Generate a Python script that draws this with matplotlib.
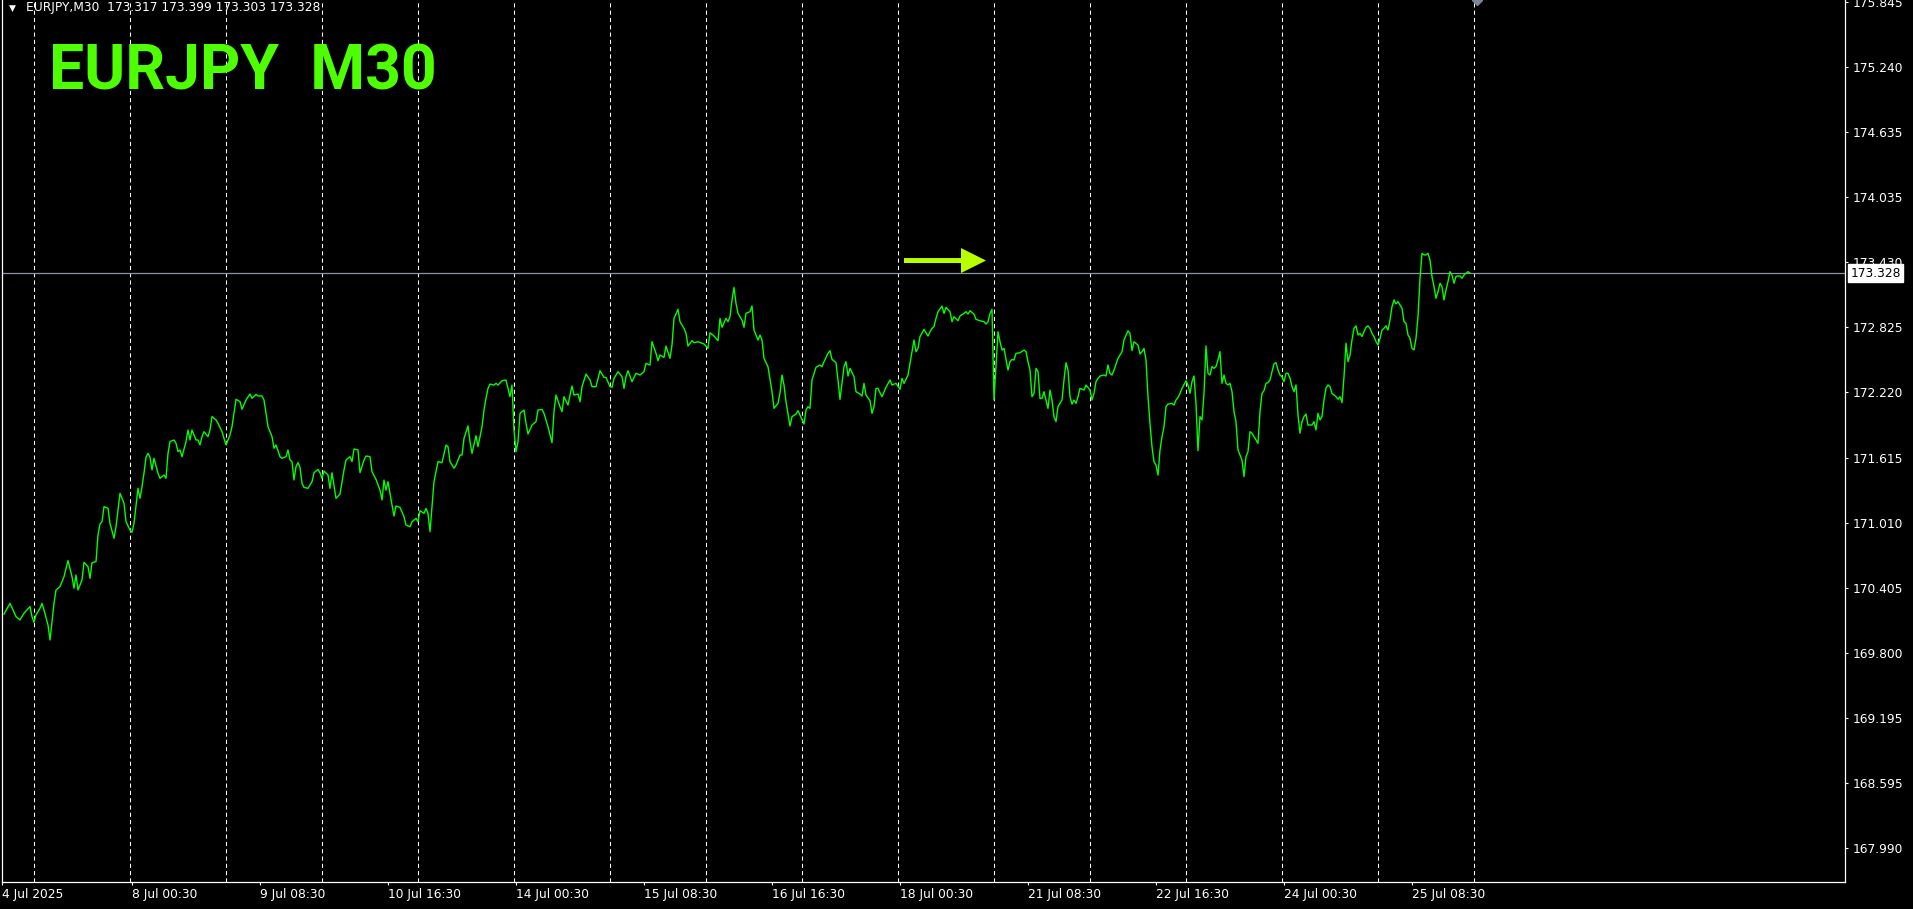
import matplotlib
matplotlib.use('Agg')
import matplotlib.pyplot as plt
import matplotlib.transforms as mtransforms

# ---------------- data ----------------
symbol = "EURJPY"
timeframe = "M30"
last_ohlc = [173.317, 173.399, 173.303, 173.328]

# bar index (M30 bars since 4 Jul 16:00) and close price
bar = [1, 4, 7, 9, 11, 14, 15, 16, 17, 19, 20, 21, 23, 24, 26, 27, 29, 31, 33, 35,
       36, 37, 38, 40, 41, 43, 44, 45, 47, 48, 49, 50, 51, 53, 54, 56, 57, 58, 59, 61,
       62, 64, 65, 66, 68, 69, 70, 71, 72, 73, 74, 75, 76, 78, 79, 81, 82, 83, 84, 86,
       87, 88, 89, 90, 92, 93, 94, 95, 97, 98, 99, 100, 101, 103, 104, 105, 107, 108, 110, 111,
       112, 114, 115, 116, 117, 119, 120, 122, 124, 125, 127, 128, 130, 131, 132, 133, 135, 136, 137, 139,
       140, 142, 143, 144, 145, 146, 147, 148, 149,
       150, 151, 153, 155, 156, 158, 159, 160, 161, 163, 164, 165, 167, 169, 171, 172, 174, 175, 176, 178,
       179, 181, 182, 184, 185, 187, 189, 190, 191, 192, 193, 195, 196, 197, 199, 201, 202, 204, 205, 207,
       208, 209, 211, 212, 213, 214, 215, 216, 218, 220, 222, 223, 224, 226, 227, 229, 230, 231, 233, 234,
       235, 237, 238, 240, 241, 242, 243, 244, 246, 247, 248, 250, 252, 253, 254, 255, 256, 257, 258, 259,
       260, 261, 262, 263, 265, 267, 268, 270, 271, 273, 275, 276, 277, 279, 280, 281, 283, 284, 285, 286,
       288, 289, 290, 292, 294, 295, 297,
       299, 301, 302, 304, 305, 306, 308, 310, 311, 312, 313, 315, 317, 319, 321, 322, 324, 325, 327, 328,
       329, 331, 332, 334, 335, 336, 338, 339, 341, 342, 343, 345, 346, 348, 351, 353, 354, 356, 358, 359,
       360, 362, 363, 364, 365, 366, 367, 368, 370, 371, 372, 374, 375, 376, 378, 379, 380, 381, 383, 385,
       386, 388, 389, 390, 391, 392, 394, 395, 397, 398, 399, 401, 402, 403, 404, 405, 407, 409, 410, 411,
       413, 414, 415, 417, 418, 419, 420, 421, 422, 423, 424, 426, 427, 429, 430, 431, 432, 434, 435, 436,
       437, 438, 439, 440, 442, 444, 445, 447, 449,
       450, 451, 453, 454, 455, 456, 457, 458, 459, 461, 463, 464, 465, 466, 467, 468, 470, 471, 472, 474,
       475, 476, 478, 479, 481, 482, 483, 484, 486, 487, 489, 491, 492, 493, 494, 495, 496, 497, 498, 499,
       500, 501, 503, 504, 505, 506, 507, 509, 511, 512, 513, 514, 515, 516, 517, 518, 519, 520, 521, 522,
       523, 524, 525, 526, 527, 528, 529, 530, 531, 532, 533, 534, 535, 536, 537, 538, 539, 541, 542, 544,
       545, 546, 547, 548, 549, 551, 552, 553, 554, 555, 556, 558, 560, 561, 563, 564, 565, 566, 568, 569,
       570, 571, 572, 573, 574, 575, 576, 577, 578, 579, 580, 581, 582, 583, 585, 586, 587, 588, 589, 590,
       592, 593, 594, 595,
       596, 597, 598, 599, 600, 601, 602, 603, 604, 605, 606, 607, 608, 609, 610, 611, 612, 613, 614, 615,
       616, 617, 618, 619, 620, 621, 622, 623, 624, 625, 626, 627, 628, 629, 630, 631, 632, 633, 634, 635,
       636, 637, 638, 639, 640, 641, 642, 643, 644, 645, 646, 647, 648, 649, 650, 651, 652, 653, 654, 655,
       656, 657, 658, 659, 660, 661, 662, 663, 664, 665, 666, 667, 668, 669, 670, 671, 672, 673, 674, 675,
       676, 677, 678, 679, 680, 681, 682, 683, 684, 685, 686, 687, 688, 689, 690, 691, 692, 693, 694, 695,
       696, 697, 698, 699, 700, 701, 702, 703, 704, 705, 706, 707, 708, 709, 710, 711, 712, 713, 714, 715,
       716, 717, 718, 719, 720, 721, 722, 723, 724, 725, 726, 727, 728, 729, 730, 731, 732, 733, 734]

close = [170.162, 170.261, 170.138, 170.107, 170.169, 170.231, 170.138, 170.085, 170.153, 170.215,
         170.261, 170.200, 170.060, 169.921, 170.261, 170.385, 170.416, 170.509, 170.658, 170.509,
         170.401, 170.525, 170.385, 170.478, 170.642, 170.602, 170.494, 170.639, 170.648, 170.896,
         170.998, 171.020, 171.159, 171.144, 171.004, 170.865, 170.973, 171.128, 171.283, 171.190,
         171.020, 170.942, 170.921, 171.004, 171.329, 171.236, 171.345, 171.469, 171.617, 171.654,
         171.617, 171.500, 171.608, 171.469, 171.422, 171.453, 171.422, 171.654, 171.763, 171.778,
         171.747, 171.670, 171.685, 171.623, 171.763, 171.871, 171.778, 171.871, 171.778, 171.778,
         171.732, 171.809, 171.855, 171.809, 171.871, 171.995, 171.964, 171.933, 171.855, 171.794,
         171.732, 171.824, 171.902, 172.026, 172.156, 172.134, 172.063, 172.149, 172.205, 172.165,
         172.202, 172.187, 172.187, 172.149, 172.026, 171.902, 171.809, 171.701, 171.732, 171.623,
         171.608, 171.623, 171.685, 171.592, 171.577, 171.407, 171.530, 171.568, 171.524,
         171.375, 171.338, 171.329, 171.391, 171.474, 171.505, 171.474, 171.422, 171.490, 171.453,
         171.329, 171.474, 171.236, 171.276, 171.499, 171.592, 171.623, 171.577, 171.694, 171.685,
         171.474, 171.592, 171.629, 171.623, 171.484, 171.412, 171.313, 171.220, 171.406, 171.313,
         171.391, 171.174, 171.072, 171.165, 171.152, 171.066, 170.988, 170.973, 171.019, 171.050,
         171.019, 171.121, 171.097, 171.143, 171.097, 170.926, 171.159, 171.391, 171.577, 171.567,
         171.731, 171.716, 171.577, 171.515, 171.545, 171.638, 171.638, 171.793, 171.908, 171.762,
         171.654, 171.818, 171.716, 171.901, 172.056, 172.164, 172.257, 172.297, 172.288, 172.304,
         172.288, 172.328, 172.335, 172.257, 172.180, 172.288, 171.870, 171.669, 171.762, 172.025,
         172.041, 172.056, 171.932, 171.833, 171.917, 171.948, 172.056, 172.062, 172.025, 171.901,
         171.753, 172.041, 172.195, 172.087, 172.041, 172.180, 172.102, 172.195, 172.279, 172.195,
         172.205, 172.133, 172.273, 172.390, 172.335, 172.273, 172.273,
         172.421, 172.359, 172.359, 172.273, 172.267, 172.350, 172.412, 172.366, 172.257, 172.366,
         172.421, 172.319, 172.397, 172.381, 172.412, 172.489, 172.474, 172.691, 172.582, 172.514,
         172.567, 172.545, 172.650, 172.536, 172.660, 172.907, 172.991, 172.876, 172.814, 172.768,
         172.650, 172.700, 172.681, 172.690, 172.669, 172.629, 172.774, 172.743, 172.700, 172.907,
         172.824, 172.907, 172.876, 172.923, 173.077, 173.195, 173.047, 172.954, 172.892, 172.824,
         172.954, 172.969, 173.022, 172.799, 172.706, 172.752, 172.706, 172.536, 172.458, 172.226,
         172.072, 172.118, 172.217, 172.381, 172.288, 172.133, 171.908, 171.994, 172.019, 172.050,
         172.010, 171.926, 172.056, 172.087, 172.072, 172.335, 172.452, 172.474, 172.458, 172.505,
         172.582, 172.607, 172.527, 172.496, 172.335, 172.155, 172.304, 172.458, 172.505, 172.372,
         172.443, 172.366, 172.226, 172.205, 172.186, 172.304, 172.195, 172.143, 172.025, 172.087,
         172.257, 172.257, 172.217, 172.180, 172.267, 172.335, 172.288, 172.304, 172.248,
         172.350, 172.303, 172.381, 172.489, 172.597, 172.706, 172.597, 172.628, 172.737, 172.805,
         172.743, 172.783, 172.814, 172.830, 172.907, 172.969, 173.021, 172.953, 173.009, 172.969,
         172.876, 172.922, 172.885, 172.929, 172.953, 172.969, 172.947, 172.978, 172.947, 172.898,
         172.885, 172.876, 172.854, 172.876, 172.953, 172.990, 172.149, 172.458, 172.783, 172.690,
         172.613, 172.628, 172.427, 172.505, 172.526, 172.520, 172.582, 172.588, 172.613, 172.597,
         172.505, 172.427, 172.180, 172.211, 172.443, 172.412, 172.164, 172.164, 172.226, 172.149,
         172.071, 172.242, 172.149, 171.994, 171.948, 172.087, 172.118, 172.149, 172.334, 172.495,
         172.427, 172.180, 172.111, 172.149, 172.118, 172.180, 172.257, 172.242, 172.288, 172.242,
         172.149, 172.211, 172.319, 172.350, 172.372, 172.381, 172.372, 172.474, 172.396, 172.381,
         172.427, 172.536, 172.597, 172.706, 172.792, 172.768, 172.607, 172.690, 172.659, 172.576,
         172.597, 172.628, 172.520, 172.180, 171.932, 171.715, 171.576, 171.545, 171.452, 171.684,
         171.808, 171.901, 172.087, 172.111, 172.118, 172.102, 172.149, 172.173, 172.211, 172.257,
         172.328, 172.288, 172.211, 172.319,
         172.372, 172.118, 171.679, 171.995, 171.964, 172.211, 172.651, 172.397, 172.381, 172.459,
         172.443, 172.459, 172.521, 172.598, 172.304, 172.381, 172.304, 172.289, 172.304, 172.227,
         172.041, 171.948, 171.685, 171.639, 171.592, 171.438, 171.623, 171.670, 171.855, 171.840,
         171.809, 171.778, 171.747, 172.041, 172.211, 172.236, 172.304, 172.310, 172.335, 172.412,
         172.484, 172.496, 172.428, 172.381, 172.366, 172.320, 172.397, 172.397, 172.351, 172.273,
         172.227, 172.289, 172.010, 171.840, 171.948, 171.995, 172.019, 171.917, 171.917, 171.917,
         171.948, 171.871, 172.026, 171.964, 171.995, 172.149, 172.258, 172.289, 172.273, 172.211,
         172.196, 172.180, 172.156, 172.180, 172.125, 172.366, 172.676, 172.505, 172.567, 172.707,
         172.815, 172.837, 172.753, 172.768, 172.738, 172.784, 172.824, 172.837, 172.815, 172.768,
         172.738, 172.691, 172.660, 172.722, 172.799, 172.815, 172.837, 172.799, 172.892, 173.016,
         173.078, 173.041, 173.062, 173.031, 173.000, 172.877, 172.861, 172.753, 172.722, 172.629,
         172.614, 172.722, 172.923, 173.279, 173.511, 173.496, 173.496, 173.511, 173.449, 173.295,
         173.202, 173.093, 173.155, 173.233, 173.202, 173.078, 173.171, 173.248, 173.341, 173.310,
         173.233, 173.295, 173.301, 173.301, 173.279, 173.310, 173.326, 173.341, 173.328]

# trading days shown and the number of M30 bars in each
day_names = ['4 Jul', '7 Jul', '8 Jul', '9 Jul', '10 Jul', '11 Jul', '14 Jul', '15 Jul',
             '16 Jul', '17 Jul', '18 Jul', '21 Jul', '22 Jul', '23 Jul', '24 Jul', '25 Jul']
bars_per_day = [16, 48, 48, 48, 48, 48, 48, 48, 48, 48, 48, 48, 48, 48, 48, 48]

time_tick_bars = [0, 65, 129, 193, 257, 321, 385, 449, 513, 577, 641, 705]
time_tick_labels = ['4 Jul 2025', '8 Jul 00:30', '9 Jul 08:30', '10 Jul 16:30', '14 Jul 00:30',
                    '15 Jul 08:30', '16 Jul 16:30', '18 Jul 00:30', '21 Jul 08:30',
                    '22 Jul 16:30', '24 Jul 00:30', '25 Jul 08:30']

price_ticks = [167.990, 168.595, 169.195, 169.800, 170.405, 171.010, 171.615, 172.220,
               172.825, 173.430, 174.035, 174.635, 175.240, 175.845]

# ---------------- figure ----------------
W, H = 1913, 909
fig = plt.figure(figsize=(W / 100, H / 100), dpi=100, facecolor='black')
ax = fig.add_axes([2 / W, (H - 882) / H, 1843 / W, 882 / H], facecolor='black')

ax.set_xlim(0, 921.5)
ax.set_ylim(167.674, 175.863)

# day separators
sep = 0
for n in bars_per_day:
    sep += n
    ax.axvline(sep, color='white', lw=0.75, linestyle=(0, (4, 3)), zorder=1)

# price line
ax.axhline(last_ohlc[3], color='#8A93A6', lw=0.9, zorder=2)
ax.plot(bar, close, color='#00FF00', lw=1.0, zorder=3)

# arrow object
ax.annotate('', xy=(492, 173.444), xytext=(451, 173.444),
            arrowprops=dict(arrowstyle='simple,head_length=0.5,head_width=0.5,tail_width=0.1',
                            color='#B8FF00', mutation_scale=36, shrinkA=0, shrinkB=0, lw=0),
            zorder=4)

# chart shift marker
ax.plot([737.5], [175.863], marker='D', ms=5, color='#7A8698', clip_on=False, zorder=5)

# spines
for s in ['left', 'right', 'bottom']:
    ax.spines[s].set_color('white')
    ax.spines[s].set_linewidth(0.9)
ax.spines['top'].set_visible(False)

# axes ticks
ax.yaxis.tick_right()
ax.set_yticks(price_ticks)
ax.set_yticklabels([f'{v:.3f}' for v in price_ticks])
ax.tick_params(axis='y', colors='white', labelcolor='white', labelsize=8.8,
               length=2.3, width=0.8, pad=3.0, direction='out')

ax.set_xticks(time_tick_bars)
ax.set_xticklabels(time_tick_labels, ha='left')
ax.tick_params(axis='x', colors='white', labelcolor='white', labelsize=8.8,
               length=2.3, width=0.8, pad=2.0, direction='out')

# current price label
trans = mtransforms.blended_transform_factory(ax.transAxes, ax.transData)
ax.text(1.0 + 5.5 / 1843, last_ohlc[3], f'{last_ohlc[3]:.3f}', transform=trans,
        ha='left', va='center', fontsize=8.8, color='black', clip_on=False, zorder=10,
        bbox=dict(boxstyle='square,pad=0.18', fc='white', ec='white'))

# header
fig.text(9 / W, 1 - 8 / H, '\u25BC', color='white', fontsize=6.5, va='center', ha='left')
fig.text(26 / W, 1 - 8 / H,
         f'{symbol},{timeframe}  ' + ' '.join(f'{v:.3f}' for v in last_ohlc),
         color='white', fontsize=8.8, va='center', ha='left')

# big title
fig.text(49 / W, 1 - 89 / H, f'{symbol}  {timeframe}', color='#4DFF00', fontsize=45,
         fontfamily='Roboto', fontweight='bold', va='baseline', ha='left')

fig.savefig('out.png', dpi=100, facecolor='black')
